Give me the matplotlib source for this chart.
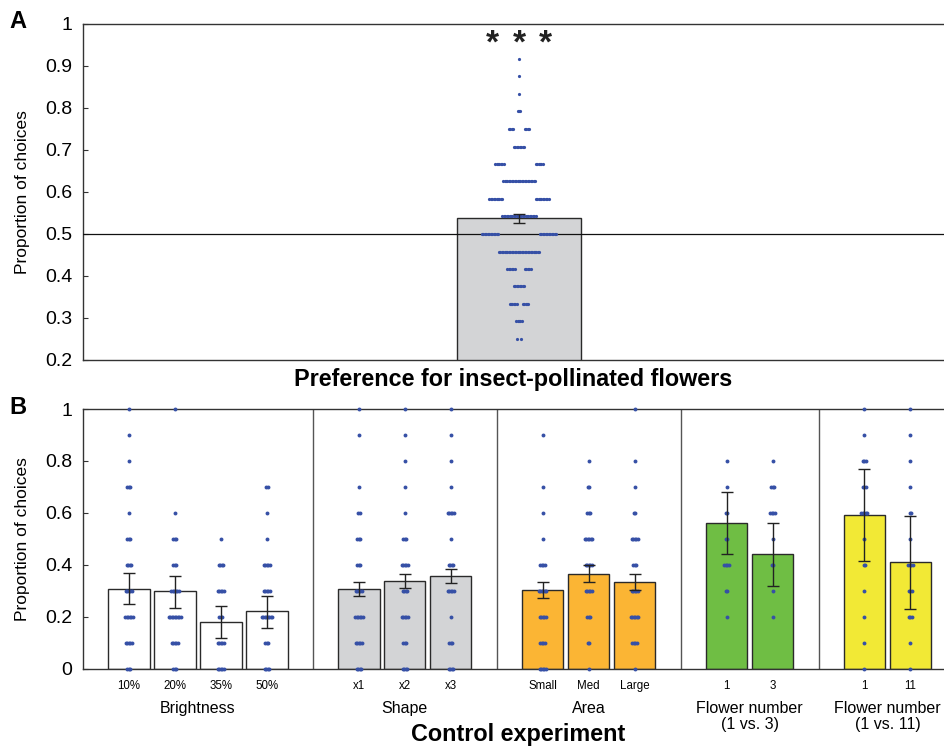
import numpy as np
import matplotlib
matplotlib.use("Agg")
import matplotlib.pyplot as plt

plt.rcParams['font.family'] = ['Liberation Sans', 'DejaVu Sans']

# ---------------- Data: panel A ----------------
a_mean = 0.537
a_err = 0.011
a_levels = [0.250, 0.292, 0.333, 0.375, 0.417, 0.458, 0.500, 0.542, 0.583,
            0.625, 0.667, 0.708, 0.750, 0.792, 0.833, 0.875, 0.917]
a_counts = [2, 5, 11, 8, 11, 29, 24, 24, 20, 23, 13, 8, 8, 3, 1, 1, 1]
a_hollow = [2, 0, 3, 0, 6, 0, 28, 0, 22, 0, 21, 0, 7, 0, 0, 0, 0]
a_signif = '***'

# ---------------- Data: panel B ----------------
b_labels = ['10%', '20%', '35%', '50%', 'x1', 'x2', 'x3',
            'Small', 'Med', 'Large', '1', '3', '1', '11']
b_means = [0.308, 0.297, 0.180, 0.220, 0.306, 0.339, 0.356,
           0.303, 0.365, 0.334, 0.562, 0.440, 0.591, 0.409]
b_err_lo = [0.248, 0.234, 0.118, 0.157, 0.279, 0.312, 0.329,
            0.271, 0.332, 0.301, 0.441, 0.319, 0.413, 0.231]
b_err_hi = [0.369, 0.356, 0.239, 0.278, 0.334, 0.366, 0.382,
            0.335, 0.398, 0.366, 0.681, 0.559, 0.769, 0.587]
b_groups = ['Brightness', 'Shape', 'Area',
            'Flower number\n(1 vs. 3)', 'Flower number\n(1 vs. 11)']
b_group_sizes = [4, 3, 3, 2, 2]
b_group_colors = ['#ffffff', '#d3d4d6', '#fbb534', '#6fbe44', '#f2e935']
b_levels = [0.0, 0.1, 0.2, 0.3, 0.4, 0.5, 0.6, 0.7, 0.8, 0.9, 1.0]
b_counts = [
    [3, 5, 6, 5, 4, 3, 1, 3, 1, 1, 1],   # 10%
    [3, 5, 9, 6, 3, 3, 1, 0, 0, 0, 1],   # 20%
    [5, 5, 3, 5, 4, 1, 0, 0, 0, 0, 0],   # 35%
    [4, 3, 8, 5, 5, 1, 1, 2, 0, 0, 0],   # 50%
    [4, 5, 6, 5, 3, 3, 2, 1, 0, 1, 1],   # x1
    [4, 3, 5, 4, 5, 3, 1, 1, 1, 1, 1],   # x2
    [4, 3, 1, 5, 4, 1, 5, 1, 1, 1, 1],   # x3
    [5, 4, 5, 6, 4, 1, 1, 1, 0, 1, 0],   # Small
    [1, 2, 3, 5, 5, 6, 3, 2, 1, 0, 0],   # Med
    [1, 4, 6, 5, 3, 5, 2, 1, 1, 0, 1],   # Large
    [0, 0, 1, 2, 4, 2, 2, 1, 1, 0, 0],   # 1 (1 vs 3)
    [0, 0, 1, 1, 2, 1, 4, 3, 1, 0, 0],   # 3
    [1, 1, 1, 1, 2, 1, 5, 3, 3, 1, 1],   # 1 (1 vs 11)
    [1, 1, 3, 3, 4, 1, 2, 1, 1, 1, 1],   # 11
]

DOT = '#3650a6'
EDGE = '#2a2a2a'

fig = plt.figure(figsize=(9.44, 7.48), dpi=100)


def dot_row(center, n, hollow, step):
    slots = n + hollow
    idx = np.arange(slots) - (slots - 1) / 2.0
    if hollow:
        nl = n // 2 + (n % 2)
        keep = np.r_[idx[:nl], idx[nl + hollow:]]
    else:
        keep = idx
    return center + keep * step


# ---------------- Panel A ----------------
axA = fig.add_axes([83 / 944, 1 - 360 / 748, 1 - 83 / 944, 336 / 748])
axA.set_xlim(-3.516, 3.427)
axA.set_ylim(0.2, 1.0)
axA.bar([0], [a_mean], width=1.0, bottom=0, color='#d3d4d6',
        edgecolor=EDGE, linewidth=1.0, zorder=2)
axA.axhline(0.5, color='#111111', lw=0.9, zorder=3)
stepA = 1.45 / 124
for lv, n, h in zip(a_levels, a_counts, a_hollow):
    xs = dot_row(0.0, n, h, stepA)
    axA.plot(xs, [lv] * len(xs), 'o', ms=2.3, color=DOT, mec='none', zorder=4)
axA.errorbar([0], [a_mean], yerr=[[a_err], [a_err]], fmt='none',
             ecolor='#222222', elinewidth=1.0, capsize=4, capthick=1.0, zorder=5)
star_dx = 26.5 / 124
for i, ch in enumerate(a_signif):
    axA.text((i - (len(a_signif) - 1) / 2) * star_dx, 0.952, ch, ha='center',
             va='center', fontsize=24, fontweight='bold', color='#222222')
axA.set_yticks([0.2, 0.3, 0.4, 0.5, 0.6, 0.7, 0.8, 0.9, 1.0])
axA.set_yticklabels(['0.2', '0.3', '0.4', '0.5', '0.6', '0.7', '0.8', '0.9', '1'])
axA.set_xticks([])
axA.tick_params(axis='y', direction='in', length=3.5, labelsize=14,
                pad=7.5, color='#333333')
axA.set_ylabel('Proportion of choices', fontsize=12.5, labelpad=11)
axA.set_xlabel('Preference for insect-pollinated flowers', fontsize=16.8,
               fontweight='bold', labelpad=6)
axA.spines['right'].set_visible(False)
for s in ['top', 'left', 'bottom']:
    axA.spines[s].set_linewidth(1.0)
    axA.spines[s].set_color('#333333')

# ---------------- Panel B ----------------
axB = fig.add_axes([83 / 944, 1 - 668.5 / 748, 1 - 83 / 944, 259.5 / 748])
axB.set_xlim(-1.0, 17.73)
axB.set_ylim(0, 1)

positions = []
colors = []
p = 0
group_centers = []
separators = []
for gi, (size, col) in enumerate(zip(b_group_sizes, b_group_colors)):
    pos = list(range(p, p + size))
    positions += pos
    colors += [col] * size
    group_centers.append(np.mean(pos))
    p += size
    if gi < len(b_group_sizes) - 1:
        separators.append(p)
    p += 1

axB.bar(positions, b_means, width=0.9, color=colors, edgecolor=EDGE,
        linewidth=1.0, zorder=2)
stepB = 1.5 / 46
for x, counts in zip(positions, b_counts):
    for lv, n in zip(b_levels, counts):
        if n == 0:
            continue
        xs = dot_row(x, n, 0, stepB)
        axB.plot(xs, [lv] * len(xs), 'o', ms=2.8, color=DOT, mec='none',
                 zorder=4, clip_on=False)
lo = np.array(b_means) - np.array(b_err_lo)
hi = np.array(b_err_hi) - np.array(b_means)
axB.errorbar(positions, b_means, yerr=[lo, hi], fmt='none', ecolor='#222222',
             elinewidth=1.0, capsize=4, capthick=1.0, zorder=5)
for s in separators:
    axB.axvline(s, color='#555555', lw=1.0, zorder=1)

axB.set_yticks([0, 0.2, 0.4, 0.6, 0.8, 1.0])
axB.set_yticklabels(['0', '0.2', '0.4', '0.6', '0.8', '1'])
axB.tick_params(axis='y', direction='in', length=3.5, labelsize=14,
                pad=7.5, color='#333333')
axB.set_xticks(positions)
axB.set_xticklabels(b_labels, fontsize=8.3)
axB.tick_params(axis='x', length=0, pad=8)
axB.set_ylabel('Proportion of choices', fontsize=12.5, labelpad=11)
axB.spines['right'].set_visible(False)
for s in ['top', 'left', 'bottom']:
    axB.spines[s].set_linewidth(1.0)
    axB.spines[s].set_color('#333333')

for gc, name in zip(group_centers, b_groups):
    axB.text(gc, -0.125, name, ha='center', va='top', fontsize=11.5,
             transform=axB.get_xaxis_transform(), linespacing=1.1)

fig.text(518 / 944, 1 - 735 / 748, 'Control experiment', ha='center',
         va='center', fontsize=16.8, fontweight='bold')
fig.text(9 / 944, 1 - 22 / 748, 'A', ha='left', va='center', fontsize=17,
         fontweight='bold')
fig.text(9 / 944, 1 - 408 / 748, 'B', ha='left', va='center', fontsize=17,
         fontweight='bold')

fig.savefig('out.png', dpi=100)
